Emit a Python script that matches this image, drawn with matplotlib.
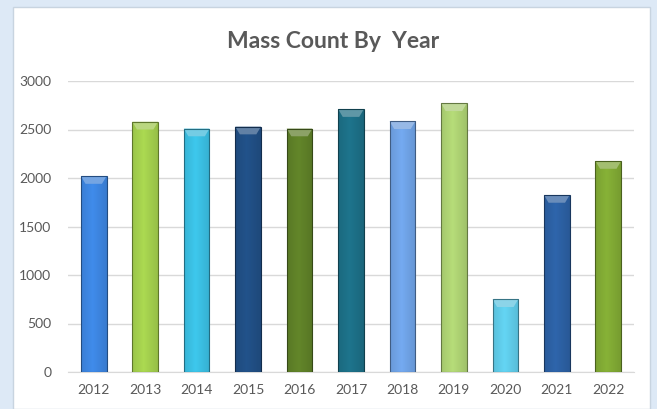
import matplotlib.pyplot as plt
import matplotlib.colors as mcolors
import numpy as np
from matplotlib.patches import Rectangle, Polygon

# data
years = ['2012', '2013', '2014', '2015', '2016', '2017', '2018', '2019', '2020', '2021', '2022']
counts = [2020, 2580, 2510, 2530, 2510, 2710, 2585, 2770, 750, 1825, 2175]
bar_colors = ['#3a7fd6', '#9cc64a', '#38b6d8', '#1f4b7e', '#5a7a26', '#1b6a80',
              '#6a9bdb', '#a6c96e', '#5bc2de', '#2a5c9c', '#7ba232']

W, H = 657, 409
fig = plt.figure(figsize=(W / 100, H / 100), dpi=100)
fig.patch.set_facecolor('#dde9f6')
plt.rcParams['font.family'] = ['Lato', 'DejaVu Sans']

# white chart area (behind the axes)
fig.add_artist(Rectangle((13 / W, 0), 637 / W, (H - 7) / H, transform=fig.transFigure,
                         facecolor='white', edgecolor='#c8d4e0', linewidth=1, zorder=-5))

ax = fig.add_axes([68 / W, (H - 372) / H, (634 - 68) / W, (372 - 81) / H])
ax.set_facecolor('none')
x = np.arange(len(years))
bars = ax.bar(x, counts, width=0.5, color=bar_colors, zorder=3)

ax.set_xlim(-0.5, len(years) - 0.5)
ax.set_ylim(0, 3000)

# bevel-like shading on each bar
grad = np.linspace(0, 1, 64)
shade = 1 - 0.35 * np.abs(grad - 0.45) * 2
bevel = 80  # height of the top bevel, data units
for b, c in zip(bars, bar_colors):
    rgb = np.array(mcolors.to_rgb(c))
    img = np.clip(rgb[None, None, :] * (0.75 + 0.35 * shade[None, :, None]), 0, 1)
    x0, y0, bw, bh = b.get_x(), b.get_y(), b.get_width(), b.get_height()
    im = ax.imshow(img, extent=[x0, x0 + bw, y0, y0 + bh],
                   aspect='auto', zorder=3.5, interpolation='bilinear')
    im.set_clip_path(b)
    top = y0 + bh
    light = np.clip(rgb + (1 - rgb) * 0.3, 0, 1)
    ax.add_patch(Polygon([(x0, top), (x0 + bw, top), (x0 + bw * 0.82, top - bevel),
                          (x0 + bw * 0.18, top - bevel)], closed=True,
                         facecolor=light, edgecolor='none', zorder=3.8))
    b.set_edgecolor(rgb * 0.6)
    b.set_linewidth(0.8)
    b.set_zorder(4)
    b.set_facecolor('none')

ax.set_xlim(-0.5, len(years) - 0.5)
ax.set_ylim(0, 3000)
ax.set_yticks([0, 500, 1000, 1500, 2000, 2500, 3000])
ax.set_xticks(x)
ax.set_xticklabels(years)
ax.grid(axis='y', color='#d9d9d9', linewidth=1, zorder=0)
ax.set_axisbelow(True)
for s in ['top', 'right', 'left']:
    ax.spines[s].set_visible(False)
ax.spines['bottom'].set_color('#d9d9d9')
ax.tick_params(length=0, colors='#595959', labelsize=10)
ax.tick_params(axis='x', pad=9)
ax.tick_params(axis='y', pad=12)

fig.text(333 / W, 1 - 42 / H, 'Mass Count By  Year', ha='center', va='center',
         fontsize=16.5, fontweight='bold', color='#595959', family='Lato')

fig.savefig('out.png', dpi=100)
